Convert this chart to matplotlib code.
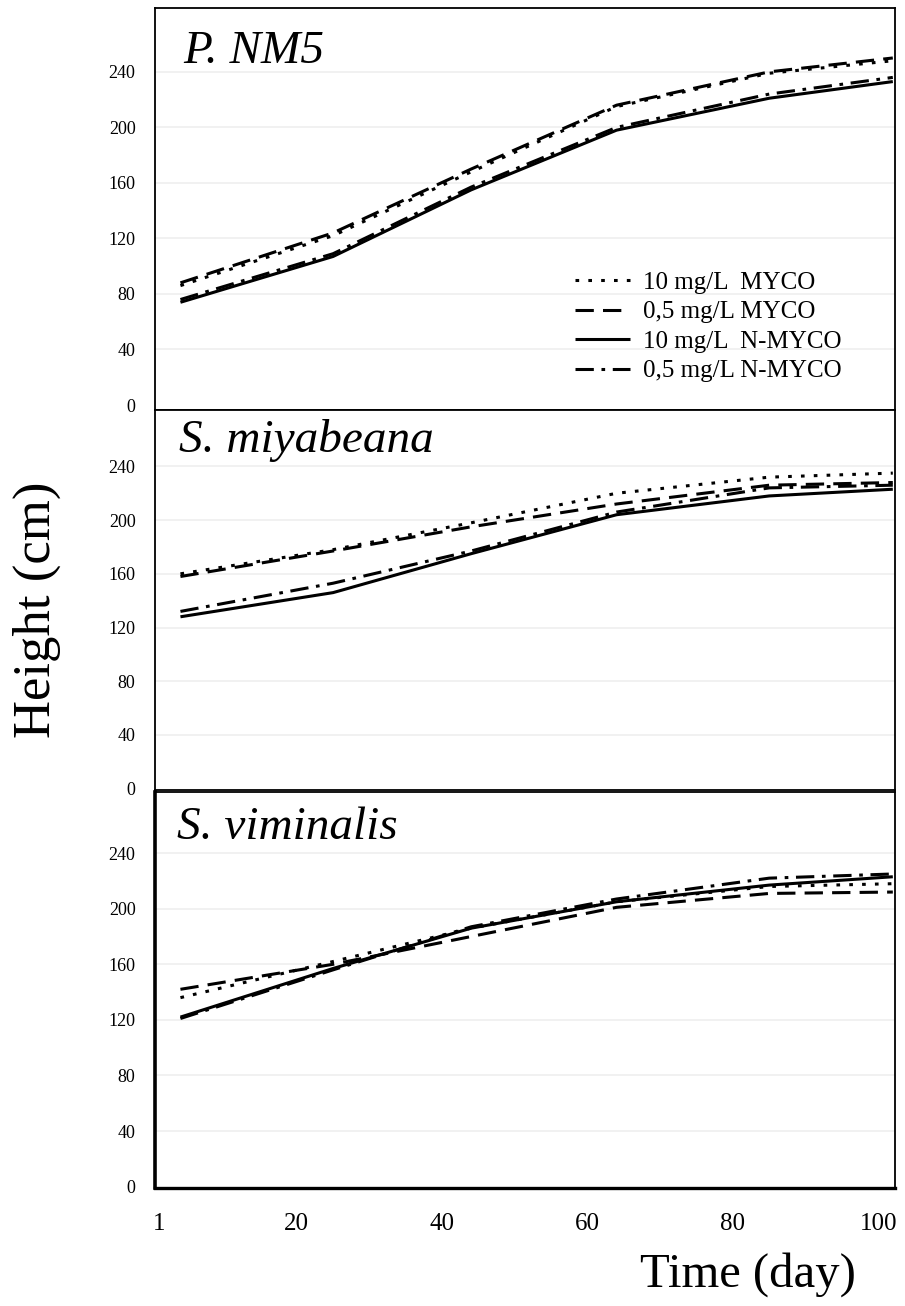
import matplotlib
matplotlib.use("Agg")
import matplotlib.pyplot as plt

plt.rcParams['font.family'] = ['Liberation Serif', 'DejaVu Serif']

# ---------------- data ----------------
days = [4, 25, 44, 64, 85, 102]

series_labels = ["10 mg/L  MYCO", "0,5 mg/L MYCO", "10 mg/L  N-MYCO", "0,5 mg/L N-MYCO"]

panel_titles = ["P. NM5", "S. miyabeana", "S. viminalis"]

# P. NM5
pnm5_myco10 = [86, 122, 168, 215, 239, 248]
pnm5_myco05 = [88, 124, 170, 216, 240, 250]
pnm5_nmyco10 = [74, 107, 155, 198, 221, 233]
pnm5_nmyco05 = [76, 109, 157, 200, 224, 236]

# S. miyabeana
smiy_myco10 = [160, 178, 198, 220, 232, 235]
smiy_myco05 = [158, 177, 195, 212, 226, 228]
smiy_nmyco10 = [128, 146, 175, 204, 218, 223]
smiy_nmyco05 = [132, 153, 177, 206, 224, 226]

# S. viminalis
svim_myco10 = [136, 162, 186, 205, 216, 218]
svim_myco05 = [142, 160, 180, 201, 211, 212]
svim_nmyco10 = [122, 157, 186, 205, 217, 223]
svim_nmyco05 = [121, 156, 187, 207, 222, 225]

yticks = [0, 40, 80, 120, 160, 200, 240]
xticks = [1, 20, 40, 60, 80, 100]

panels = [
    [pnm5_myco10, pnm5_myco05, pnm5_nmyco10, pnm5_nmyco05],
    [smiy_myco10, smiy_myco05, smiy_nmyco10, smiy_nmyco05],
    [svim_myco10, svim_myco05, svim_nmyco10, svim_nmyco05],
]

# ---------------- styles ----------------
styles = [
    dict(linestyle=(0, (1.2, 3.0)), linewidth=2.2),             # dotted
    dict(linestyle=(0, (6.0, 3.0)), linewidth=2.2),             # dashed
    dict(linestyle='-', linewidth=2.2),                         # solid
    dict(linestyle=(0, (6.0, 2.5, 1.2, 2.5)), linewidth=2.2),   # dash-dot
]

W, H = 905, 1306
fig = plt.figure(figsize=(W / 100, H / 100), dpi=100)

left_px, right_px = 155, 895
panel_px = [(8, 410), (410, 790), (792, 1188)]
ylims = [(-3.6, 286), (-1, 282), (-1, 284)]
title_pos = [(0.038, 0.863), (0.033, 0.89), (0.030, 0.881)]

axes = []
for i, (top, bot) in enumerate(panel_px):
    ax = fig.add_axes([left_px / W, 1 - bot / H, (right_px - left_px) / W, (bot - top) / H])
    axes.append(ax)
    for j, vals in enumerate(panels[i]):
        ax.plot(days, vals, color='black', label=series_labels[j],
                solid_capstyle='butt', dash_capstyle='butt', **styles[j])
    ax.set_xlim(0.5, 102.3)
    ax.set_ylim(*ylims[i])
    ax.set_yticks(yticks)
    ax.set_yticklabels([str(v) for v in yticks], fontsize=13)
    ax.tick_params(axis='both', length=0)
    ax.tick_params(axis='y', pad=14)
    for y in yticks[1:]:
        ax.axhline(y, color='#efefef', lw=1.2, zorder=0)
    for s in ax.spines.values():
        s.set_linewidth(1.3)
        s.set_color('black')
    ax.text(title_pos[i][0], title_pos[i][1], panel_titles[i], transform=ax.transAxes,
            fontsize=34, fontstyle='italic', ha='left', va='baseline')
    if i < 2:
        ax.set_xticks([])
    else:
        ax.set_xticks(xticks)
        ax.set_xticklabels([str(v) for v in xticks], fontsize=18)
        ax.tick_params(axis='x', pad=18)
        ax.spines['left'].set_linewidth(2.6)
        ax.spines['bottom'].set_linewidth(2.4)

leg = axes[0].legend(loc='upper left', bbox_to_anchor=(0.568, 0.345), frameon=False,
                     fontsize=18, handlelength=2.2, handletextpad=0.5, labelspacing=0.28,
                     borderpad=0, borderaxespad=0)

fig.text(37 / W, 1 - 610 / H, "Height (cm)", rotation=90, ha='center', va='center', fontsize=38)
fig.text(748 / W, 1 - 1275 / H, "Time (day)", ha='center', va='center', fontsize=35)

fig.savefig("out.png", dpi=100)
